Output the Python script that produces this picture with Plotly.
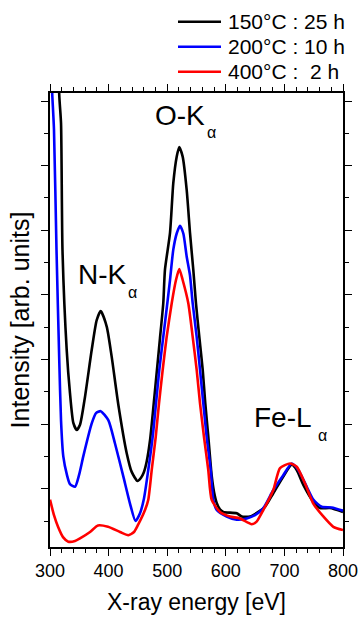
import plotly.graph_objects as go

# ---------------- data ----------------
energy_150 = [300, 315.7, 318.8, 321.3, 328.5, 334.1, 339.8, 345.6, 351.2, 359.7, 371.2, 379.7,
              386.5, 396.8, 405.3, 416.6, 430.9, 439.4, 449.3, 455.3, 460.0, 465.0, 470.7, 476.3,
              482.1, 487.7, 493.3, 496.2, 504.8, 510.4, 516.2, 520.6, 526.4, 533.3, 538.9, 544.5,
              549.1, 554.8, 560.6, 565.0, 570.1, 575.9, 579.9, 584.5, 590.0, 595.7, 618.6, 627.1,
              641.3, 655.5, 666.9, 681.1, 698.1, 712.5, 721.0, 732.3, 749.3, 760.8, 777.8, 800]
intensity_150 = [14.0, 7.11, 6.66, 4.70, 3.15, 2.48, 2.02, 1.91, 1.99, 2.42, 3.15, 3.61,
                 3.75, 3.51, 3.04, 2.30, 1.55, 1.26, 1.12, 1.17, 1.25, 1.42, 1.75, 2.25,
                 2.80, 3.33, 3.87, 4.39, 4.96, 5.73, 6.14, 6.29, 6.14, 5.62, 4.96, 4.39,
                 3.87, 3.35, 2.84, 2.32, 1.81, 1.20, 0.95, 0.78, 0.68, 0.64, 0.62, 0.57,
                 0.57, 0.64, 0.72, 0.93, 1.19, 1.37, 1.29, 1.06, 0.80, 0.70, 0.70, 0.64]

energy_200 = [300, 303.8, 306.8, 311.1, 315.9, 318.8, 322.7, 329.0, 334.1, 342.7, 349.5, 356.8,
              371.2, 378.5, 386.5, 399.5, 410.9, 425.1, 436.5, 445.9, 453.6, 460.4, 467.7, 475.3,
              480.9, 486.5, 493.3, 500.2, 504.8, 510.4, 516.2, 521.8, 527.5, 533.3, 538.9, 543.5,
              550.3, 556.0, 561.6, 567.4, 574.2, 578.7, 584.5, 601.5, 618.6, 635.7, 649.8, 664.0,
              681.1, 698.1, 712.5, 723.7, 738.1, 749.3, 763.7, 780.7, 800]
intensity_200 = [8.0, 7.11, 6.56, 4.70, 2.95, 2.06, 1.50, 1.21, 1.07, 1.03, 1.21, 1.50,
                 2.01, 2.17, 2.20, 2.06, 1.70, 1.19, 0.77, 0.50, 0.62, 0.85, 1.29, 1.81,
                 2.32, 2.84, 3.35, 3.87, 4.23, 4.70, 4.95, 5.07, 4.95, 4.59, 4.30, 3.87,
                 3.35, 2.84, 2.32, 1.80, 1.29, 0.83, 0.67, 0.57, 0.52, 0.54, 0.59, 0.70,
                 0.98, 1.21, 1.39, 1.29, 1.03, 0.83, 0.72, 0.71, 0.66]

energy_400 = [300, 306.8, 313.7, 322.2, 331.2, 342.7, 351.2, 368.3, 381.9, 399.0, 419.5, 433.6,
              443.3, 450.2, 462.1, 467.7, 473.6, 480.4, 486.0, 492.3, 499.1, 507.7, 515.0, 520.6,
              526.4, 536.0, 543.5, 550.3, 556.0, 562.8, 570.1, 575.9, 590.1, 607.2, 624.2, 644.2,
              652.6, 664.0, 681.1, 692.5, 709.6, 721.0, 735.2, 749.3, 766.4, 783.5, 800]
intensity_400 = [0.83, 0.59, 0.41, 0.25, 0.18, 0.19, 0.23, 0.33, 0.43, 0.41, 0.33, 0.28,
                 0.33, 0.44, 0.67, 0.83, 1.29, 1.80, 2.32, 2.84, 3.35, 3.87, 4.23, 4.40,
                 4.23, 3.87, 3.35, 2.84, 2.32, 1.80, 1.29, 0.83, 0.64, 0.57, 0.54, 0.45,
                 0.49, 0.67, 0.98, 1.32, 1.39, 1.34, 1.08, 0.77, 0.57, 0.41, 0.36]

series_names = ["150°C : 25 h", "200°C : 10 h", "400°C :  2 h"]
series_colors = ["#000000", "#0000ff", "#ff0000"]

peak_labels = ["N-K", "O-K", "Fe-L"]
peak_label_x = [390.4, 521.0, 697.6]
peak_label_y = [4.31, 6.78, 2.10]
sub_label_x = [441.6, 575.6, 764.2]
sub_label_y = [4.03, 6.51, 1.82]

x_range = [300, 800]
y_range = [0.0975, 7.125]

FONT = "Arial, 'Liberation Sans', sans-serif"

# ---------------- figure ----------------
fig = go.Figure()
for xs, ys, name, col in zip([energy_150, energy_200, energy_400],
                             [intensity_150, intensity_200, intensity_400],
                             series_names, series_colors):
    fig.add_trace(go.Scatter(x=xs, y=ys, mode="lines", name=name,
                             line=dict(color=col, width=2.6, shape="spline", smoothing=0.6),
                             showlegend=False, hoverinfo="skip"))

# peak labels
for lab, lx, ly, sx, sy in zip(peak_labels, peak_label_x, peak_label_y, sub_label_x, sub_label_y):
    fig.add_annotation(x=lx, y=ly, text=lab, showarrow=False, xref="x", yref="y",
                       font=dict(family=FONT, size=28, color="black"))
    fig.add_annotation(x=sx, y=sy, text="α", showarrow=False, xref="x", yref="y",
                       font=dict(family=FONT, size=16, color="black"))

# legend drawn at the top right (outside the plot frame)
W, H = 360, 618
ml, mr, mt, mb = 50, 17, 93, 71
pw, ph = W - ml - mr, H - mt - mb
legend_rows_px = [21.7, 46.7, 71.7]
for name, col, ry in zip(series_names, series_colors, legend_rows_px):
    yp = (H - mb - ry) / ph
    fig.add_shape(type="line", xref="paper", yref="paper",
                  x0=(178 - ml) / pw, x1=(221 - ml) / pw, y0=yp, y1=yp,
                  line=dict(color=col, width=2.6))
    fig.add_annotation(x=(226 - ml) / pw, y=yp, xref="paper", yref="paper",
                       text=name, showarrow=False, xanchor="left", yanchor="middle",
                       font=dict(family=FONT, size=21, color="black"))

axis_common = dict(showgrid=False, zeroline=False, showline=True, linecolor="black",
                   linewidth=1.5, mirror="allticks", ticks="outside", ticklen=7,
                   tickwidth=1.3, tickcolor="black")

fig.update_xaxes(range=x_range, dtick=100, tick0=300,
                 minor=dict(dtick=20, ticks="outside", ticklen=4, tickwidth=1.3, tickcolor="black"),
                 tickfont=dict(family=FONT, size=18, color="black"),
                 title=dict(text="X-ray energy [eV]", font=dict(family=FONT, size=23, color="black"),
                            standoff=14),
                 **axis_common)
fig.update_yaxes(range=y_range, dtick=1, tick0=0, showticklabels=False,
                 minor=dict(dtick=0.5, ticks="outside", ticklen=4, tickwidth=1.3, tickcolor="black"),
                 title=dict(text="Intensity [arb. units]", font=dict(family=FONT, size=25, color="black"),
                            standoff=5),
                 **axis_common)

fig.update_layout(width=W, height=H, margin=dict(l=ml, r=mr, t=mt, b=mb, autoexpand=False),
                  paper_bgcolor="white", plot_bgcolor="white",
                  font=dict(family=FONT, color="black"))

fig.write_html("out.html")
